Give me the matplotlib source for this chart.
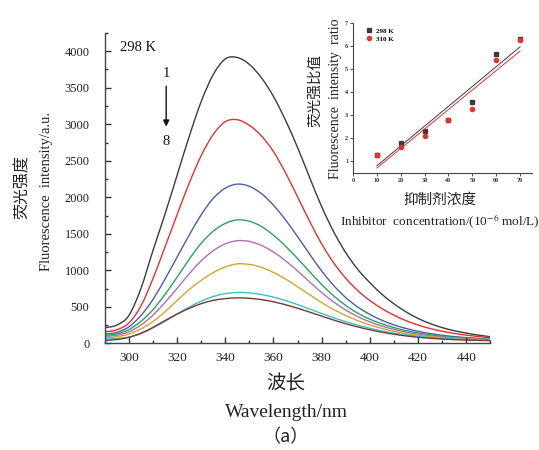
import numpy as np
import matplotlib
matplotlib.use("Agg")
import matplotlib.pyplot as plt
from matplotlib.ticker import MultipleLocator
from matplotlib.path import Path
from matplotlib.patches import PathPatch

plt.rcParams['font.family'] = ['Liberation Serif', 'Noto Sans CJK SC']
plt.rcParams['mathtext.fontset'] = 'stix'

# Emission spectra (298 K), quencher concentration increasing from 1 to 8
wavelength = [290, 295, 300, 305, 310, 315, 320, 325, 330, 335, 340, 345,
              350, 355, 360, 365, 370, 375, 380, 385, 390, 395, 400, 405,
              410, 415, 420, 425, 430, 435, 440, 445, 450]

spec1 = [213, 250, 380, 750, 1270, 1770, 2300, 2830, 3310, 3680, 3895, 3914,
         3820, 3636, 3380, 3054, 2680, 2270, 1870, 1525, 1240, 1010, 830, 670,
         540, 430, 340, 270, 215, 172, 140, 112, 90]
spec2 = [158, 185, 278, 510, 885, 1320, 1760, 2190, 2570, 2860, 3035, 3062,
         2985, 2840, 2625, 2335, 2005, 1670, 1360, 1100, 890, 720, 585, 475,
         385, 310, 250, 202, 165, 135, 112, 93, 78]
spec3 = [127, 150, 225, 380, 600, 880, 1180, 1480, 1760, 1985, 2125, 2180,
         2150, 2050, 1890, 1690, 1460, 1220, 990, 790, 625, 495, 395, 315,
         252, 203, 164, 133, 110, 92, 78, 67, 60]
spec4 = [109, 128, 188, 300, 460, 670, 905, 1150, 1370, 1535, 1642, 1690,
         1672, 1600, 1480, 1330, 1160, 980, 805, 648, 518, 412, 330, 266,
         215, 174, 142, 116, 96, 81, 70, 62, 56]
spec5 = [95, 110, 158, 250, 385, 560, 752, 950, 1130, 1268, 1362, 1405,
         1395, 1340, 1250, 1130, 990, 840, 695, 565, 455, 365, 293, 236,
         190, 154, 125, 103, 86, 73, 63, 56, 51]
spec6 = [77, 90, 127, 198, 298, 432, 585, 735, 862, 968, 1046, 1088,
         1080, 1040, 970, 880, 775, 665, 558, 462, 380, 310, 252, 204,
         165, 134, 110, 91, 77, 66, 57, 51, 46]
spec7 = [60, 66, 85, 133, 212, 300, 400, 495, 578, 640, 680, 696,
         690, 668, 632, 585, 530, 470, 408, 350, 296, 248, 206, 170,
         140, 115, 96, 80, 68, 59, 52, 48, 45]
spec8 = [40, 52, 82, 138, 218, 312, 400, 478, 543, 588, 612, 622,
         616, 598, 568, 528, 480, 427, 372, 318, 268, 224, 185, 152,
         124, 101, 83, 69, 58, 50, 44, 40, 37]

spectra = [spec1, spec2, spec3, spec4, spec5, spec6, spec7, spec8]
spec_colors = ['#3c3c3c', '#e8302c', '#4a5cb0', '#25a65a',
               '#b36cb8', '#d5a62a', '#3cc0cc', '#7a3636']

# Fluorescence intensity ratio vs inhibitor concentration
conc = [10, 20, 30, 40, 50, 60, 70]
ratio_298 = [1.27, 1.80, 2.33, 2.80, 3.60, 5.65, 6.30]
ratio_310 = [1.28, 1.62, 2.12, 2.80, 3.28, 5.42, 6.25]


def spline_path(xs, ys):
    """Smooth connector through the given points (Catmull-Rom as Bezier)."""
    p = np.column_stack([xs, ys]).astype(float)
    ext = np.vstack([p[0], p, p[-1]])
    verts = [p[0]]
    codes = [Path.MOVETO]
    for i in range(len(p) - 1):
        p0, p1, p2, p3 = ext[i], ext[i + 1], ext[i + 2], ext[i + 3]
        verts += [p1 + (p2 - p0) / 6.0, p2 - (p3 - p1) / 6.0, p2]
        codes += [Path.CURVE4] * 3
    return Path(verts, codes)


fig = plt.figure(figsize=(5.39, 4.5), dpi=100)
ax = fig.add_axes([0.1943, 0.2371, 0.7157, 0.6896])

for s, c in zip(spectra, spec_colors):
    ax.add_patch(PathPatch(spline_path(wavelength, s), facecolor='none',
                           edgecolor=c, lw=1.0, capstyle='round'))

ax.set_xlim(290, 450)
ax.set_ylim(0, 4250)
ax.xaxis.set_minor_locator(MultipleLocator(10))
ax.yaxis.set_major_locator(MultipleLocator(500))
ax.yaxis.set_minor_locator(MultipleLocator(250))
ax.set_xticks([300, 320, 340, 360, 380, 400, 420, 440])
ax.tick_params(which='both', direction='in', colors='#333333',
               labelcolor='#222222', width=1.0)
ax.tick_params(which='major', length=4)
ax.tick_params(which='minor', length=2.5)
ax.tick_params(axis='x', pad=6, labelsize=9.5)
ax.tick_params(axis='y', pad=11, labelsize=9)
for side in ['top', 'right']:
    ax.spines[side].set_visible(False)
for side in ['left', 'bottom']:
    ax.spines[side].set_color('#444444')
    ax.spines[side].set_linewidth(1.0)

ax.text(0.04, 0.975, '298 K', transform=ax.transAxes, fontsize=10.5,
        ha='left', va='top', color='#111111')
ax.text(315.5, 3690, '1', fontsize=10.5, ha='center', va='center', color='#111111')
ax.text(315.5, 2770, '8', fontsize=10.5, ha='center', va='center', color='#111111')
ax.annotate('', xy=(315.5, 2930), xytext=(315.5, 3560),
            arrowprops=dict(arrowstyle='-|>', color='#111111', lw=1.0,
                            mutation_scale=9))

fig.text(0.041, 0.585, '荧光强度', rotation=90, fontsize=11.5, ha='center',
         va='center', family=['Noto Sans CJK SC'], color='#222222')
fig.text(0.087, 0.575, 'Fluorescence  intensity/a.u.', rotation=90,
         fontsize=10.5, ha='center', va='center', color='#222222')
fig.text(0.531, 0.148, '波长', fontsize=14, ha='center', va='center',
         family=['Noto Sans CJK SC'], color='#222222')
fig.text(0.531, 0.084, 'Wavelength/nm', fontsize=14, ha='center',
         va='center', color='#222222')
fig.text(0.529, 0.028, '（a）', fontsize=13, ha='center', va='center',
         family=['Noto Sans CJK SC'], color='#222222')

# Inset: ratio vs concentration with linear fits
ax2 = fig.add_axes([0.655, 0.6156, 0.332, 0.333])
x = np.array(conc, dtype=float)
for yv, col, mk, lab in [(ratio_298, '#3c3c3c', 's', '298 K'),
                         (ratio_310, '#e8302c', 'o', '310 K')]:
    ax2.plot(x, yv, linestyle='none', marker=mk, ms=3.0, color=col,
             label=lab)
    k, b = np.polyfit(x, np.array(yv), 1)
    xf = np.array([10, 70], dtype=float)
    ax2.plot(xf, k * xf + b, color=col, lw=0.7)

ax2.set_xlim(0, 75)
ax2.set_ylim(0.5, 7)
ax2.set_xticks([0, 10, 20, 30, 40, 50, 60, 70])
ax2.set_yticks([1, 2, 3, 4, 5, 6, 7])
ax2.tick_params(labelsize=4.5, length=2, width=0.6, pad=1.5,
                colors='#333333')
for lbl in ax2.get_xticklabels() + ax2.get_yticklabels():
    lbl.set_fontweight('bold')
for side in ['top', 'right']:
    ax2.spines[side].set_visible(False)
for side in ['left', 'bottom']:
    ax2.spines[side].set_color('#444444')
    ax2.spines[side].set_linewidth(0.8)
ax2.legend(loc='upper left', frameon=False, handlelength=1.0,
           handletextpad=0.6, borderaxespad=0.3, labelspacing=0.3,
           bbox_to_anchor=(0.04, 1.0),
           prop={'weight': 'bold', 'size': 5})

fig.text(0.585, 0.80, '荧光强比值', rotation=90, fontsize=10.5, ha='center',
         va='center', family=['Noto Sans CJK SC'], color='#222222')
fig.text(0.623, 0.78, 'Fluorescence  intensity  ratio', rotation=90,
         fontsize=10, ha='center', va='center', color='#222222')
fig.text(0.816, 0.555, '抑制剂浓度', fontsize=10.5, ha='center',
         va='center', family=['Noto Sans CJK SC'], color='#222222')
fig.text(0.816, 0.508, 'Inhibitor  concentration/(10$^{-6}$ mol/L)',
         fontsize=9.5, ha='center', va='center', color='#222222')

fig.savefig('out.png', dpi=100)
